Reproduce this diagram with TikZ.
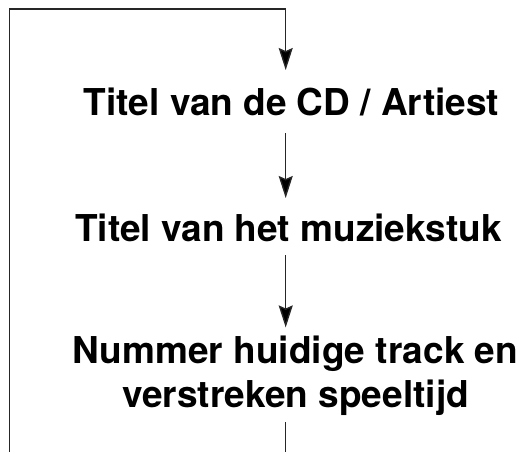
\documentclass[tikz,border=0pt]{standalone}
\usepackage{fontspec}
\setmainfont{TeX Gyre Heros}
\usetikzlibrary{arrows.meta}
\begin{document}
\begin{tikzpicture}[x=1pt,y=1pt,
  txt/.style={font=\fontsize{37}{44}\selectfont\bfseries, inner sep=0pt, outer sep=0pt, align=center},
  flow/.style={draw=black!85, line width=1.4pt, -{Stealth[length=22pt,width=14pt,inset=3pt,fill=black]}}]
\useasboundingbox (0,0) rectangle (517,-451);
\clip (0,0) rectangle (517,-451);
\coordinate (col) at (285.7,0);
\coordinate (tl) at (9.5,-9);
\coordinate (tr) at (285.7,-9);
\coordinate (bl) at (9.5,-470);
\coordinate (br) at (285.7,-470);
\node[txt, text height=27pt, text depth=0pt, anchor=base] (t1) at (291.5,-115) {Titel van de CD / Artiest};
\node[txt, text height=27pt, text depth=0pt, anchor=base] (t2) at (288.5,-241) {Titel van het muziekstuk};
\node[txt, text depth=0pt, anchor=south] (t3) at (295.5,-407) {Nummer huidige track en\\verstreken speeltijd};
\draw[flow, shorten <=15pt, shorten >=18pt] (t3.south -| col) -- (br) -- (bl) -- (tl) -- (tr) -- (t1.north -| col);
\draw[flow, shorten <=18pt, shorten >=16pt] (t1.south -| col) -- (t2.north -| col);
\draw[flow, shorten <=14pt, shorten >=8pt] (t2.south -| col) -- (t3.north -| col);
\end{tikzpicture}
\end{document}
